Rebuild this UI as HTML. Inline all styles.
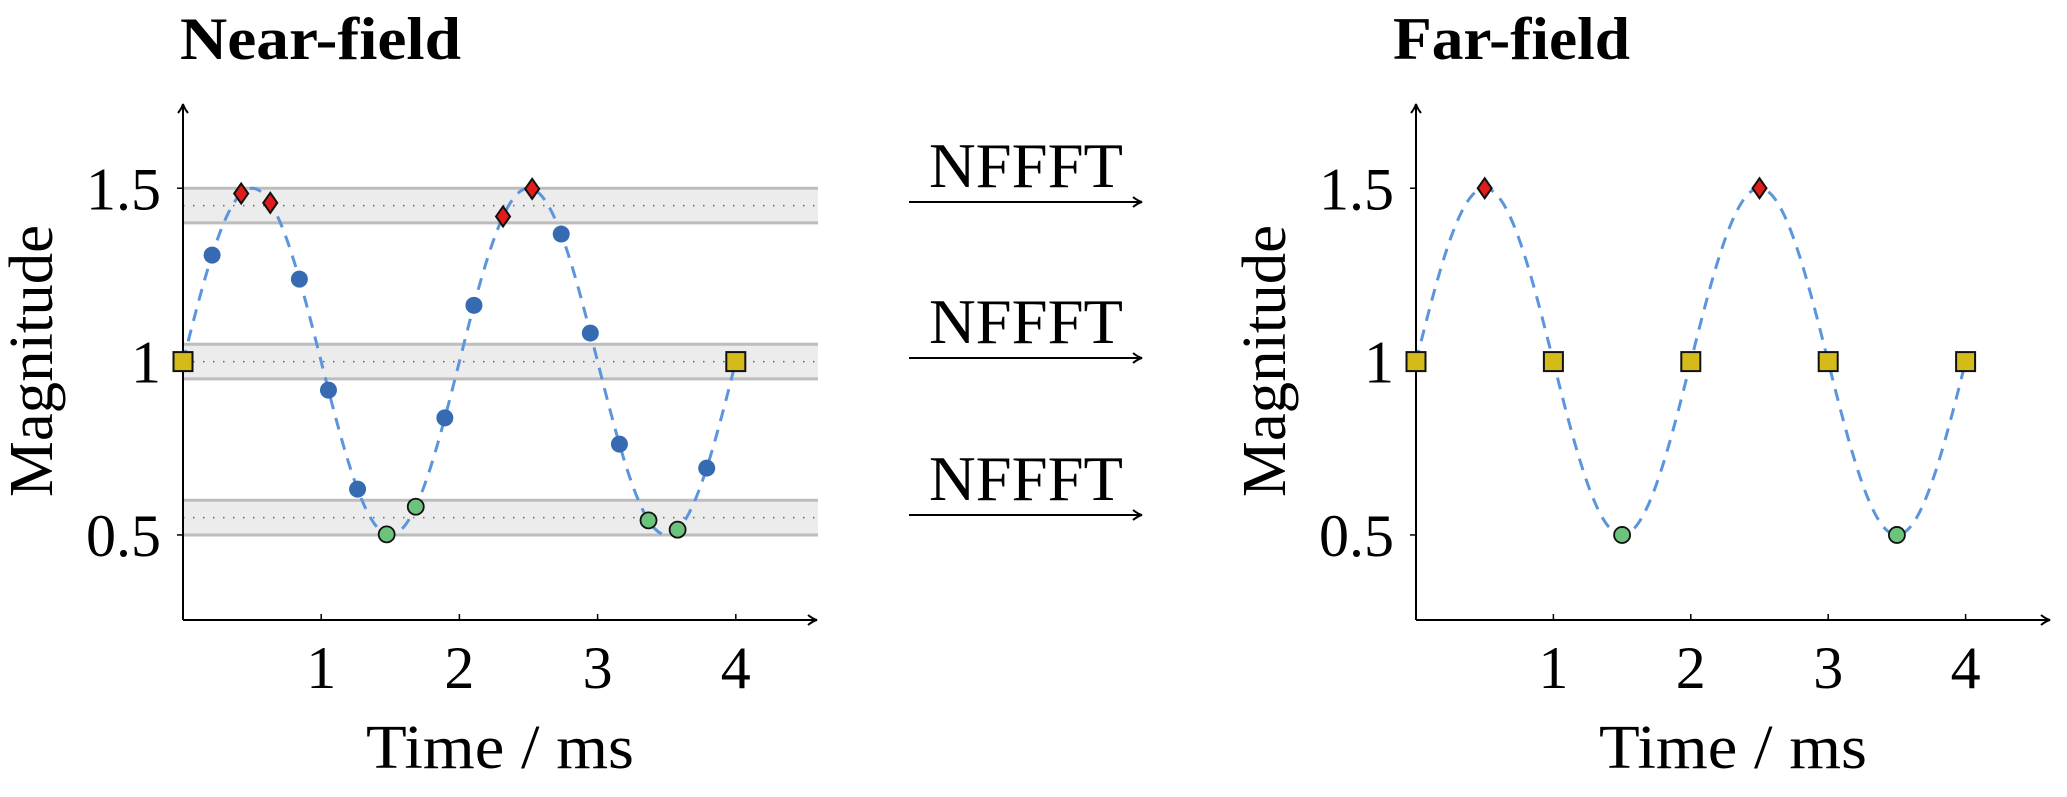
<!DOCTYPE html>
<html><head><meta charset="utf-8"><style>
html,body{margin:0;padding:0;background:#fff}
svg{display:block}
text{font-family:"Liberation Serif",serif;fill:#000}
</style></head><body>
<svg id="s" width="2067" height="797" viewBox="0 0 2067 797" xmlns="http://www.w3.org/2000/svg">
<defs>
<marker id="ah" markerWidth="12" markerHeight="12" refX="10" refY="6" orient="auto" markerUnits="userSpaceOnUse">
<path d="M1,1 Q6,5 10,6 Q6,7 1,11" fill="none" stroke="#000" stroke-width="2"/>
</marker>
</defs>
<text x="180" y="59" font-size="60" font-weight="bold" textLength="281" lengthAdjust="spacingAndGlyphs">Near-field</text>
<text x="1393" y="59" font-size="60" font-weight="bold" textLength="237" lengthAdjust="spacingAndGlyphs">Far-field</text>
<g id="g"></g>
<g font-size="64" text-anchor="middle">
<text x="1026" y="187" textLength="194" lengthAdjust="spacingAndGlyphs">NFFFT</text>
<text x="1026" y="343" textLength="194" lengthAdjust="spacingAndGlyphs">NFFFT</text>
<text x="1026" y="500" textLength="194" lengthAdjust="spacingAndGlyphs">NFFFT</text>
</g>
<g stroke="#000" stroke-width="2" marker-end="url(#ah)">
<line x1="909" y1="202" x2="1142" y2="202"/>
<line x1="909" y1="358" x2="1142" y2="358"/>
<line x1="909" y1="515" x2="1142" y2="515"/>
</g>
</svg>
<script>
const NS="http://www.w3.org/2000/svg",g=document.getElementById('g');
function el(t,a,txt){const e=document.createElementNS(NS,t);for(const k in a)e.setAttribute(k,a[k]);if(txt!==undefined)e.textContent=txt;g.appendChild(e);return e;}
const SY=346.7, Y=v=>708.3-SY*v;
const f=t=>1+0.5*Math.sin(Math.PI*t);
function plot(ox,sx,near){
  const X=t=>ox+sx*t;
  const xr=ox+634;
  if(near){
    [[1.5,1.4,1.45],[1.05,0.95,1],[0.6,0.5,0.55]].forEach(([a,b,c])=>{
      el('rect',{x:ox,y:Y(a),width:818-ox,height:Y(b)-Y(a),fill:'#ececec'});
      el('line',{x1:ox,x2:818,y1:Y(a),y2:Y(a),stroke:'#bdbdbd','stroke-width':3});
      el('line',{x1:ox,x2:818,y1:Y(b),y2:Y(b),stroke:'#bdbdbd','stroke-width':3});
      el('line',{x1:ox,x2:818,y1:Y(c),y2:Y(c),stroke:'#666','stroke-width':1.5,'stroke-dasharray':'1.5 8.5'});
    });
  }
  el('line',{x1:ox,y1:620,x2:ox,y2:104,stroke:'#000','stroke-width':2,'marker-end':'url(#ah)'});
  el('line',{x1:ox,y1:620,x2:xr,y2:620,stroke:'#000','stroke-width':2,'marker-end':'url(#ah)'});
  [1,2,3,4].forEach(i=>{el('line',{x1:X(i),x2:X(i),y1:614,y2:620,stroke:'#000','stroke-width':1.5});
    el('text',{x:X(i),y:688,'font-size':60,'text-anchor':'middle'},String(i));});
  [[1.5,'1.5'],[1,'1'],[0.5,'0.5']].forEach(([v,s])=>{el('line',{x1:ox-6,x2:ox,y1:Y(v),y2:Y(v),stroke:'#000','stroke-width':1.5});
    el('text',{x:ox-22,y:Y(v)+21,'font-size':60,'text-anchor':'end'},s);});
  el('text',{x:(ox+xr)/2,y:768,'font-size':62,'text-anchor':'middle',textLength:268,lengthAdjust:'spacingAndGlyphs'},'Time / ms');
  el('text',{x:0,y:0,'font-size':62,'text-anchor':'middle',textLength:272,lengthAdjust:'spacingAndGlyphs',transform:`translate(${ox-131},361) rotate(-90)`},'Magnitude');
  let d='';for(let i=0;i<=400;i++){const t=4*i/400;d+=(i?'L':'M')+X(t).toFixed(2)+','+Y(f(t)).toFixed(2);}
  el('path',{d,fill:'none',stroke:'#5b95dc','stroke-width':3,'stroke-dasharray':'12 9'});
  const sq=t=>el('rect',{x:X(t)-9.5,y:Y(f(t))-9.5,width:19,height:19,fill:'#d4bb1a',stroke:'#111','stroke-width':2});
  const dm=t=>{const x=X(t),y=Y(f(t));el('path',{d:`M${x},${y-10}L${x+7},${y}L${x},${y+10}L${x-7},${y}Z`,fill:'#e01c1c',stroke:'#111','stroke-width':2});};
  const gr=t=>el('circle',{cx:X(t),cy:Y(f(t)),r:8,fill:'#6cc47c',stroke:'#111','stroke-width':1.8});
  const bl=t=>el('circle',{cx:X(t),cy:Y(f(t)),r:8.5,fill:'#366bb2'});
  if(near){
    for(let k=0;k<=19;k++){const t=k*4/19,v=f(t);
      if(k==0||k==19)sq(t);else if(v>=1.4)dm(t);else if(v<=0.6)gr(t);else bl(t);}
  }else{
    [0,1,2,3,4].forEach(sq);[0.5,2.5].forEach(dm);[1.5,3.5].forEach(gr);
  }
}
plot(183,138.2,true);
plot(1416,137.4,false);
</script>
</body></html>
